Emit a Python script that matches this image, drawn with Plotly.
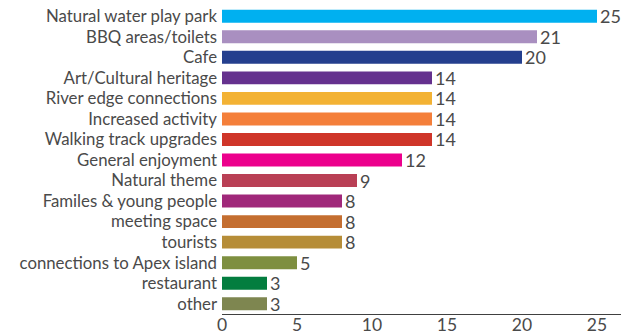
import plotly.graph_objects as go

categories = ["Natural water play park", "BBQ areas/toilets", "Cafe", "Art/Cultural heritage",
              "River edge connections", "Increased activity", "Walking track upgrades",
              "General enjoyment", "Natural theme", "Familes & young people", "meeting space",
              "tourists", "connections to Apex island", "restaurant", "other"]
values = [25, 21, 20, 14, 14, 14, 14, 12, 9, 8, 8, 8, 5, 3, 3]
colors = ["#00B0F0", "#A98FC0", "#243F8E", "#65318E", "#F3B234", "#F47F3A", "#CF3529",
          "#EC008C", "#B93F55", "#A0287A", "#C46E30", "#B68D38", "#7E8F40", "#037D3F", "#7E8650"]
x_ticks = [0, 5, 10, 15, 20, 25]

FONT = "Lato"
TXT = "#4a4a4a"
fig = go.Figure(go.Bar(
    y=categories, x=values, orientation="h",
    marker=dict(color=colors, line=dict(width=0)),
    text=[str(v) for v in values], textposition="outside", cliponaxis=False,
    constraintext="none",
    textfont=dict(size=18, color=TXT, family=FONT),
))
fig.update_layout(
    width=632, height=336,
    margin=dict(l=222, r=11, t=6, b=22),
    paper_bgcolor="white", plot_bgcolor="white",
    bargap=0.37, showlegend=False,
    font=dict(family=FONT, color=TXT),
)
fig.update_yaxes(autorange="reversed", showgrid=False, showline=False, ticks="",
                 tickfont=dict(size=16.8, family=FONT, color=TXT), ticklabelstandoff=4,
                 automargin=False)
fig.update_xaxes(range=[0, 26.6], tickvals=x_ticks, showgrid=False, zeroline=False,
                 showline=True, linecolor="#404040", linewidth=1, ticks="",
                 tickfont=dict(size=17.5, family=FONT, color=TXT), automargin=False,
                 ticklabelstandoff=-5)
fig.write_html("out.html")
